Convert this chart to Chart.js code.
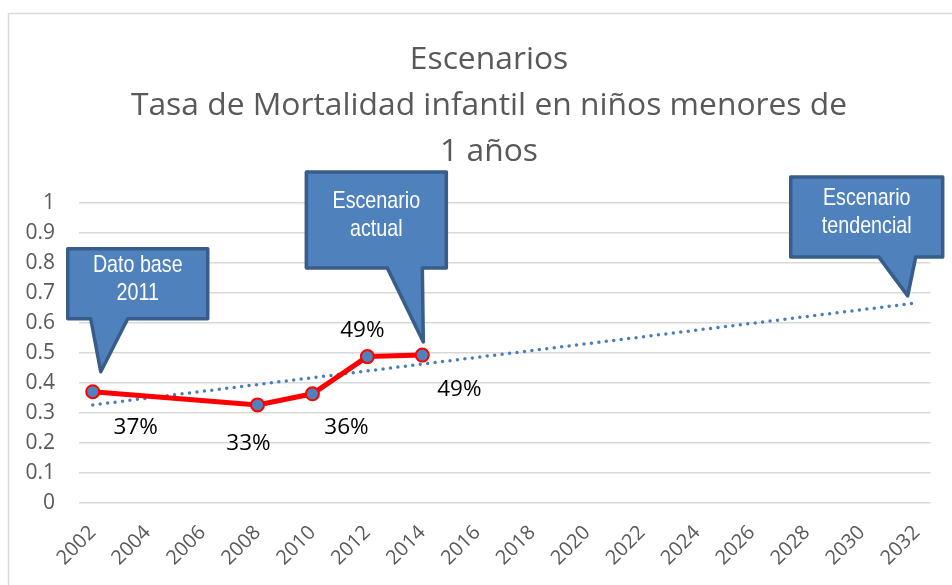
<!DOCTYPE html>
<html>
<head>
<meta charset="utf-8">
<script src="https://cdn.jsdelivr.net/npm/chart.js@4/dist/chart.umd.min.js"></script>
<style>
html,body{margin:0;padding:0;background:#fff;}
#wrap{position:relative;width:952px;height:585px;}
</style>
</head>
<body>
<div id="wrap"><canvas id="c" width="952" height="585"></canvas></div>
<script>
// ---- data ----
const titleLines = ['Escenarios', 'Tasa de Mortalidad infantil en niños menores de', '1 años'];
const categories = ['2002','2003','2004','2005','2006','2007','2008','2009','2010','2011',
  '2012','2013','2014','2015','2016','2017','2018','2019','2020','2021','2022','2023',
  '2024','2025','2026','2027','2028','2029','2030','2031','2032'];
const actualValues = [0.371, null, null, null, null, null, 0.327, null, 0.364, null,
  0.488, null, 0.493, null, null, null, null, null, null, null, null, null,
  null, null, null, null, null, null, null, null, null];
const trendValues = [0.327, null, null, null, null, null, null, null, null, null,
  null, null, null, null, null, null, null, null, null, null, null, null,
  null, null, null, null, null, null, null, null, 0.667];
const yTickLabels = ['0', '0.1', '0.2', '0.3', '0.4', '0.5', '0.6', '0.7', '0.8', '0.9', '1'];
const calloutTexts = [['Dato base', '2011'], ['Escenario', 'actual'], ['Escenario', 'tendencial']];

// ---- styles ----
const FONT = '"Open Sans", sans-serif';
const labelOffsets = {0: [43, 36], 6: [-9, 39], 8: [34, 34], 10: [-5, -26], 12: [37, 34]};
// callout geometry relative to an anchor point (dataset, index)
const callouts = [
  {ds: 0, idx: 0,  tip: [8, -20],  box: [-33, 107, -123, -53], base: [-10, 27]},
  {ds: 0, idx: 12, tip: [1, -13],  box: [-117, 23, -170, -74], base: [-36, -1]},
  {ds: 1, idx: 30, tip: [-9, -7],  box: [-117, 35, -119, -39], base: [-29, 8]}
];

const decor = {
  id: 'decor',
  beforeDraw(chart) {
    const ctx = chart.ctx;
    ctx.save();
    ctx.fillStyle = '#fff';
    ctx.fillRect(0, 0, chart.width, chart.height);
    ctx.strokeStyle = '#d9d9d9';
    ctx.lineWidth = 1.5;
    ctx.beginPath();
    ctx.moveTo(8.5, chart.height + 5);
    ctx.lineTo(8.5, 13.5);
    ctx.lineTo(chart.width + 5, 13.5);
    ctx.stroke();
    ctx.fillStyle = '#595959';
    ctx.font = '31.8px ' + FONT;
    ctx.textAlign = 'center';
    ctx.textBaseline = 'alphabetic';
    const baselines = [69, 115, 161];
    titleLines.forEach((t, i) => ctx.fillText(t, 489, baselines[i]));
    ctx.restore();
  },
  afterDatasetsDraw(chart) {
    const ctx = chart.ctx;
    ctx.save();
    // data labels
    const meta0 = chart.getDatasetMeta(0);
    ctx.fillStyle = '#000';
    ctx.font = '22.5px ' + FONT;
    ctx.textAlign = 'center';
    ctx.textBaseline = 'middle';
    actualValues.forEach((v, i) => {
      if (v === null) return;
      const p = meta0.data[i];
      const o = labelOffsets[i] || [0, -20];
      ctx.fillText(Math.round(v * 100) + '%', p.x + o[0], p.y + o[1]);
    });
    // callouts
    callouts.forEach((c, k) => {
      const p = chart.getDatasetMeta(c.ds).data[c.idx];
      const tx = p.x + c.tip[0], ty = p.y + c.tip[1];
      const L = tx + c.box[0], R = tx + c.box[1], T = ty + c.box[2], B = ty + c.box[3];
      const b1 = tx + c.base[0], b2 = tx + c.base[1];
      ctx.beginPath();
      ctx.moveTo(L, T);
      ctx.lineTo(R, T);
      ctx.lineTo(R, B);
      ctx.lineTo(b2, B);
      ctx.lineTo(tx, ty);
      ctx.lineTo(b1, B);
      ctx.lineTo(L, B);
      ctx.closePath();
      ctx.fillStyle = '#4f81bd';
      ctx.fill();
      ctx.lineJoin = 'round';
      ctx.strokeStyle = '#385d8a';
      ctx.lineWidth = 3.5;
      ctx.stroke();
      // text
      const cx = (L + R) / 2, cy = (T + B) / 2;
      const lines = calloutTexts[k];
      ctx.fillStyle = '#fff';
      ctx.font = '24px "Liberation Sans", Arial, sans-serif';
      ctx.textAlign = 'center';
      ctx.textBaseline = 'alphabetic';
      const lh = 28;
      const firstBase = cy - (lines.length - 1) * lh / 2 + 2;
      lines.forEach((t, i) => {
        ctx.save();
        ctx.translate(cx, firstBase + i * lh);
        ctx.scale(0.82, 1);
        ctx.fillText(t, 0, 0);
        ctx.restore();
      });
    });
    ctx.restore();
  }
};

new Chart(document.getElementById('c'), {
  type: 'line',
  data: {
    labels: categories,
    datasets: [
      {
        label: 'Escenario actual',
        data: actualValues,
        borderColor: '#ff0000',
        borderWidth: 5,
        spanGaps: true,
        pointRadius: 6.5,
        pointBackgroundColor: '#4f81bd',
        pointBorderColor: '#ff0000',
        pointBorderWidth: 2,
        tension: 0,
        order: 1
      },
      {
        label: 'Tendencia',
        data: trendValues,
        borderColor: '#4a7ebb',
        borderWidth: 3.5,
        borderDash: [0, 7.5],
        borderCapStyle: 'round',
        spanGaps: true,
        pointRadius: 0,
        tension: 0,
        order: 2
      }
    ]
  },
  options: {
    responsive: false,
    animation: false,
    devicePixelRatio: 1,
    layout: {padding: {left: 8, right: 20, top: 203, bottom: 0}},
    plugins: {legend: {display: false}, title: {display: false}, tooltip: {enabled: false}},
    scales: {
      x: {
        type: 'category',
        offset: true,
        grid: {display: false, drawTicks: false},
        border: {display: false},
        ticks: {
          autoSkip: false,
          minRotation: 45,
          maxRotation: 45,
          padding: 18,
          color: '#595959',
          font: {family: FONT, size: 20},
          callback: function (v, i) { return i % 2 === 0 ? categories[i] : ''; }
        },
        afterFit(s) { s.height = 82; }
      },
      y: {
        min: 0,
        max: 1,
        grid: {color: '#d9d9d9', lineWidth: 1.5, drawTicks: false},
        border: {display: false},
        ticks: {
          stepSize: 0.1,
          padding: 24,
          color: '#595959',
          font: {family: FONT, size: 21},
          callback: function (v, i) { return yTickLabels[i]; }
        },
        afterFit(s) { s.width = 71; }
      }
    }
  },
  plugins: [decor]
});
</script>
</body>
</html>
